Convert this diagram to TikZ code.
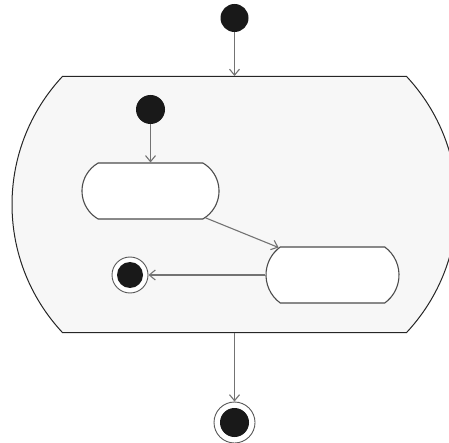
\documentclass[tikz,border=0pt]{standalone}
\usetikzlibrary{shapes.misc,arrows.meta}
\begin{document}
\begin{tikzpicture}[x=1pt,y=-1pt,
  statebox/.style={rounded rectangle, draw=black!70, line width=1.1pt, fill=white,
    inner sep=0pt},
  initdot/.style={circle, fill=black!90, inner sep=0pt, minimum size=28pt},
  finalring/.style={circle, draw=black!65, line width=0.9pt, fill=white, inner sep=0pt},
  finaldot/.style={circle, fill=black!90, inner sep=0pt},
  trans/.style={draw=black!55, line width=1.1pt, -{Straight Barb[length=6pt,width=10pt]}}
]
\useasboundingbox (0,0) rectangle (449,443);
% composite state
\node[rounded rectangle, rounded rectangle arc length=86, draw=black!85, line width=1pt,
  fill=black!3, inner sep=0pt, minimum width=445pt, minimum height=256pt]
  (big) at (234.5,204.5) {};
% top initial and final
\node[initdot] (init) at (234.5,18) {};
\node[finalring, minimum size=41pt] (fin) at (234.5,422.5) {};
\node[finaldot, minimum size=29pt] (findot) at (234.5,422.5) {};
% inner states
\node[initdot, minimum size=29pt] (iinit) at (150.5,109.5) {};
\node[statebox, rounded rectangle arc length=120, minimum width=137pt, minimum height=56pt]
  (s1) at (150.5,191) {};
\node[statebox, rounded rectangle arc length=108, minimum width=133pt, minimum height=56pt]
  (s2) at (332.5,275) {};
\node[finalring, minimum size=36pt] (ifin) at (130,275) {};
\node[finaldot, minimum size=26pt] (ifindot) at (130,275) {};
% transitions
\draw[trans] (init) -- (big.north);
\draw[trans] (iinit) -- (s1.north);
\draw[trans] (s1.-26) -- (s2.153);
\draw[trans] (s2.west) -- (ifin.east);
\draw[trans] (big.south) -- (fin.north);
\end{tikzpicture}
\end{document}
